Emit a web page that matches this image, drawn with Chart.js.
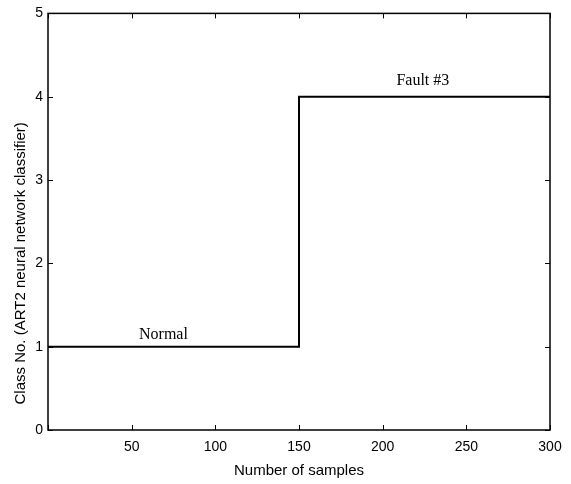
<!DOCTYPE html>
<html>
<head>
<meta charset="utf-8">
<script src="https://cdn.jsdelivr.net/npm/chart.js@4/dist/chart.umd.min.js"></script>
<style>
  html, body { margin: 0; padding: 0; background: #fff; }
  #wrap { width: 571px; height: 484px; }
</style>
</head>
<body>
<div id="wrap"><canvas id="chart" width="571" height="484"></canvas></div>
<script>
// step points: class changes from normal (1) to fault #3 (4) at sample 150
const samples = [0, 150, 300];
const classNo = [1, 4, 4];

const xTicks = [0, 50, 100, 150, 200, 250, 300];
const yTicks = [0, 1, 2, 3, 4, 5];

const noteText = ["Normal", "Fault #3"];
const noteX = [69, 224];
const noteY = [1.09, 4.14];

const SANS = "'Liberation Sans', Arial, sans-serif";
const SERIF = "'Liberation Serif', 'Times New Roman', serif";

// box around the plot with inward ticks on all four sides, like a matlab figure
const boxPlugin = {
  id: "box",
  afterDatasetsDraw(chart) {
    const { ctx, chartArea: a, scales } = chart;
    const tl = 5;
    ctx.save();
    ctx.strokeStyle = "#000";
    ctx.lineWidth = 1;
    ctx.beginPath();
    xTicks.forEach((v) => {
      const px = Math.round(scales.x.getPixelForValue(v)) + 0.5;
      ctx.moveTo(px, a.bottom);
      ctx.lineTo(px, a.bottom - tl);
      ctx.moveTo(px, a.top);
      ctx.lineTo(px, a.top + tl);
    });
    yTicks.forEach((v) => {
      const py = Math.round(scales.y.getPixelForValue(v)) + 0.5;
      ctx.moveTo(a.left, py);
      ctx.lineTo(a.left + tl, py);
      ctx.moveTo(a.right, py);
      ctx.lineTo(a.right - tl, py);
    });
    ctx.stroke();
    ctx.lineWidth = 1.5;
    ctx.strokeRect(a.left, a.top, a.right - a.left, a.bottom - a.top);

    // text labels on the curve
    ctx.fillStyle = "#000";
    ctx.font = "16px " + SERIF;
    ctx.textAlign = "center";
    ctx.textBaseline = "alphabetic";
    noteText.forEach((t, i) => {
      ctx.fillText(t, scales.x.getPixelForValue(noteX[i]), scales.y.getPixelForValue(noteY[i]));
    });

    // y axis title, sits a bit below the middle in the original
    ctx.font = "15px " + SANS;
    ctx.translate(21, a.top + (a.bottom - a.top) * 0.6);
    ctx.rotate(-Math.PI / 2);
    ctx.textBaseline = "middle";
    ctx.fillText("Class No. (ART2 neural network classifier)", 0, 0);
    ctx.restore();
  },
};

new Chart(document.getElementById("chart"), {
  type: "line",
  data: {
    datasets: [
      {
        data: samples.map((s, i) => ({ x: s, y: classNo[i] })),
        stepped: "before",
        borderColor: "#000",
        borderWidth: 2,
        pointRadius: 0,
        fill: false,
      },
    ],
  },
  options: {
    responsive: false,
    animation: false,
    layout: { padding: { top: 11, right: 21, left: 0, bottom: 0 } },
    plugins: { legend: { display: false }, tooltip: { enabled: false } },
    scales: {
      x: {
        type: "linear",
        min: 0,
        max: 300,
        afterFit: (s) => { s.height = 54; },
        afterBuildTicks: (s) => { s.ticks = xTicks.map((v) => ({ value: v })); },
        grid: { display: false, drawTicks: false },
        border: { display: false },
        ticks: {
          color: "#000",
          font: { family: SANS, size: 14 },
          padding: 9,
          maxRotation: 0,
          callback: (v) => (v === 0 ? "" : v),
        },
        title: {
          display: true,
          text: "Number of samples",
          color: "#000",
          font: { family: SANS, size: 15 },
          padding: { top: 0, bottom: 4 },
        },
      },
      y: {
        min: 0,
        max: 5,
        afterFit: (s) => { s.width = 48; },
        afterBuildTicks: (s) => { s.ticks = yTicks.map((v) => ({ value: v })); },
        grid: { display: false, drawTicks: false },
        border: { display: false },
        ticks: {
          color: "#000",
          font: { family: SANS, size: 14 },
          padding: 5,
        },
      },
    },
  },
  plugins: [boxPlugin],
});
</script>
</body>
</html>
